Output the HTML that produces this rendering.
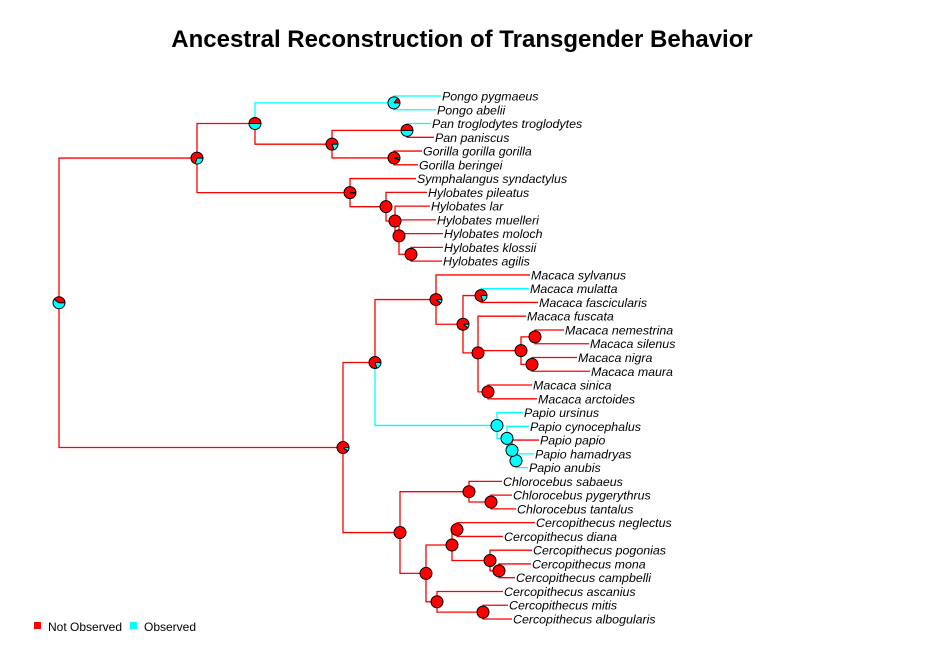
<!DOCTYPE html>
<html><head><meta charset="utf-8"><style>
body{margin:0;background:#fff;}
svg{display:block;font-family:"Liberation Sans",Arial,sans-serif;}
.tl{font-style:italic;font-size:12.4px;fill:#000;}
</style></head><body>
<svg id="chart" width="926" height="666">
<text x="462" y="47" text-anchor="middle" font-size="24" font-weight="bold">Ancestral Reconstruction of Transgender Behavior</text>
<g id="tree"></g>
<g>
<rect x="34" y="622" width="7" height="7" fill="#ff0000"/>
<text x="48" y="631" font-size="12">Not Observed</text>
<rect x="130" y="622" width="7" height="7" fill="#00ffff"/>
<text x="144" y="631" font-size="12">Observed</text>
</g>
</svg>
<script>
const tipNames=["Pongo pygmaeus","Pongo abelii","Pan troglodytes troglodytes","Pan paniscus","Gorilla gorilla gorilla","Gorilla beringei","Symphalangus syndactylus","Hylobates pileatus","Hylobates lar","Hylobates muelleri","Hylobates moloch","Hylobates klossii","Hylobates agilis","Macaca sylvanus","Macaca mulatta","Macaca fascicularis","Macaca fuscata","Macaca nemestrina","Macaca silenus","Macaca nigra","Macaca maura","Macaca sinica","Macaca arctoides","Papio ursinus","Papio cynocephalus","Papio papio","Papio hamadryas","Papio anubis","Chlorocebus sabaeus","Chlorocebus pygerythrus","Chlorocebus tantalus","Cercopithecus neglectus","Cercopithecus diana","Cercopithecus pogonias","Cercopithecus mona","Cercopithecus campbelli","Cercopithecus ascanius","Cercopithecus mitis","Cercopithecus albogularis"];
const tipDepth=[441,436,431,434,422,418,416,427,430,436,443,443,442,530,529,538,526,564,589,577,590,532,537,523,529,539,534,528,502,512,516,535,503,532,531,515,503,508,512];
const tipObserved=[1,1,1,0,0,0,0,0,0,0,0,0,0,0,1,0,0,0,0,0,0,0,0,1,1,0,1,1,0,0,0,0,0,0,0,0,0,0,0];
const nodeNames=["root","A","Hom","Pongo","HPG","Pan","Gor","Hyl","H1","H2","H3","H4","B","Pap","Mac","M2","Mul","M3","M4","Nem","Nig","Sin","Papio","P2","P3","P4","Afr","Chl","Ch2","Cer","Cer1","Cer1a","Cer1b","Cer1c","Cer2","Cer2b"];
const nodeDepth=[59,197,255,394,332,407,394,350,386,395,399,411,343,375,436,463,481,478,521,535,532,488,497,507,512,516,400,469,491,426,452,457,490,499,437,483];
const nodeCyan=[0.6,0.3,0.5,0.85,0.2,0.5,0.05,0.02,0,0,0,0,0.1,0.2,0.1,0.1,0.2,0,0,0,0,0,1,1,1,1,0,0,0,0,0,0,0,0,0,0];
const nodeChildren=[["A","B"],["Hom","Hyl"],["Pongo","HPG"],[0,1],["Pan","Gor"],[2,3],[4,5],[6,"H1"],[7,"H2"],[8,"H3"],[9,10,"H4"],[11,12],["Pap","Afr"],["Mac","Papio"],[13,"M2"],["Mul","M3"],[14,15],[16,"M4","Sin"],["Nem","Nig"],[17,18],[19,20],[21,22],[23,"P2"],[24,"P3"],[25,"P4"],[26,27],["Chl","Cer"],[28,"Ch2"],[29,30],["Cer1","Cer2"],["Cer1a","Cer1b"],[31,32],[33,"Cer1c"],[34,35],[36,"Cer2b"],[37,38]];
const cyanBranches=["Pongo",0,1,2,14,"Papio",23,24,"P2","P3","P4",26,27];

const NS="http://www.w3.org/2000/svg";
const g=document.getElementById('tree');
const yTop=96,yBot=619;
const tipY=i=>yTop+i*(yBot-yTop)/(tipNames.length-1);
const nodeIdx=n=>nodeNames.indexOf(n);
const pos={};
function place(ref){
  if(typeof ref==="number") return {x:tipDepth[ref],y:tipY(ref)};
  const k=nodeIdx(ref);
  const ch=nodeChildren[k].map(place);
  const y=ch.reduce((s,c)=>s+c.y,0)/ch.length;
  pos[ref]={x:nodeDepth[k],y:y};
  return pos[ref];
}
place("root");
const RED="#ff0000",CY="#00ffff";
const lines=document.createElementNS(NS,'g');g.appendChild(lines);
const pies=document.createElementNS(NS,'g');g.appendChild(pies);
function mk(tag,attrs,parent){const e=document.createElementNS(NS,tag);for(const k in attrs)e.setAttribute(k,attrs[k]);parent.appendChild(e);return e;}
function draw(ref){
  const k=nodeIdx(ref);const p=pos[ref];
  nodeChildren[k].forEach(c=>{
    const cp=(typeof c==="number")?{x:tipDepth[c],y:tipY(c)}:pos[c];
    const col=cyanBranches.includes(c)?CY:RED;
    const pl=mk('polyline',{points:`${p.x},${p.y} ${p.x},${cp.y} ${cp.x},${cp.y}`,fill:'none',stroke:col,'stroke-width':1.3},lines);
    
    
    if(typeof c==="number"){
      const t=mk('text',{x:cp.x+1,y:cp.y+4.5,class:'tl'},lines);
      t.textContent=tipNames[c];
      
      
    } else draw(c);
  });
  const r=6, f=nodeCyan[k];
  const pg=mk('g',{},pies);
  
  
  if(f<=0.005) mk('circle',{cx:p.x,cy:p.y,r:r,fill:RED},pg);
  else if(f>=0.995) mk('circle',{cx:p.x,cy:p.y,r:r,fill:CY},pg);
  else{
    const a=2*Math.PI*(1-f);
    const x1=p.x+r*Math.cos(a),y1=p.y-r*Math.sin(a);
    const large=a>Math.PI?1:0;
    mk('path',{d:`M${p.x},${p.y} L${p.x+r},${p.y} A${r},${r} 0 ${large} 0 ${x1},${y1} Z`,fill:RED},pg);
    mk('path',{d:`M${p.x},${p.y} L${x1},${y1} A${r},${r} 0 ${1-large} 0 ${p.x+r},${p.y} Z`,fill:CY},pg);
    mk('line',{x1:p.x,y1:p.y,x2:p.x+r,y2:p.y,stroke:'#000','stroke-width':1},pg);
    mk('line',{x1:p.x,y1:p.y,x2:x1,y2:y1,stroke:'#000','stroke-width':1},pg);
  }
  mk('circle',{cx:p.x,cy:p.y,r:r,fill:'none',stroke:'#000','stroke-width':1},pg);
}
draw("root");
</script>
</body></html>
